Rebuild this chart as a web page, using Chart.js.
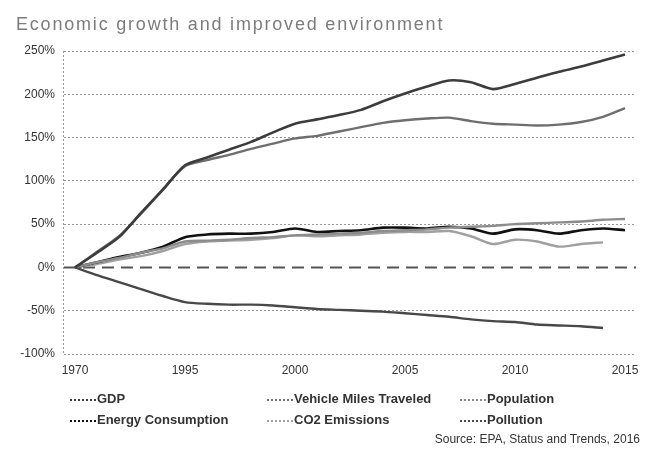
<!DOCTYPE html>
<html>
<head>
<meta charset="utf-8">
<script src="https://cdn.jsdelivr.net/npm/chart.js@4/dist/chart.umd.min.js"></script>
<style>
html,body{margin:0;padding:0;background:#fff;}
#wrap{position:relative;width:654px;height:450px;font-family:"Liberation Sans",Arial,sans-serif;overflow:hidden;}
#c{position:absolute;left:0;top:0;}
#title{position:absolute;left:16px;top:15px;font-size:18px;line-height:18px;letter-spacing:1.8px;color:#7c7c7c;white-space:nowrap;}
.leg{position:absolute;font-size:13px;font-weight:bold;color:#333;white-space:nowrap;line-height:16px;}
.leg i{display:inline-block;width:26px;height:0;border-top:2px dotted #555;vertical-align:middle;margin-right:1px;}
#src{position:absolute;right:14px;top:432px;font-size:12px;line-height:14px;color:#333;white-space:nowrap;}
</style>
</head>
<body>
<div id="wrap">
  <canvas id="c" width="654" height="450"></canvas>
  <div id="title">Economic growth and improved environment</div>
  <div id="legend"></div>
  <div id="src">Source: EPA, Status and Trends, 2016</div>
</div>
<script>
// ---- data ----
const years = ['1970','1975','1980','1985','1990','1995','1996','1997','1998','1999','2000','2001','2002','2003','2004','2005','2006','2007','2008','2009','2010','2011','2012','2013','2014','2015'];
const xTickLabels = ['1970','1995','2000','2005','2010','2015'];
const seriesNames = ['GDP','Vehicle Miles Traveled','Population','Energy Consumption','CO2 Emissions','Pollution'];
const gdp        = [0,17,35,63,90,118,127,136,145,156,166,171,176,182,192,201,209,216,214,206,212,219,226,232,239,246];
const vmt        = [0,18,36,62,90,117,124,130,137,143,149,152,157,162,167,170,172,173,169,166,165,164,165,168,174,184];
const population = [0,6,11,17,22,30,31,32,34,35,37,38,39,40,42,43,44,46,47,48,50,51,52,53,55,56];
const energy     = [0,6,12,17,24,35,38,39,39,41,45,41,42,43,46,46,45,47,45,39,44,43,39,43,45,43];
const co2        = [0,4,9,13,19,27,30,31,32,34,37,36,37,38,40,41,41,42,36,27,32,30,24,27,29,null];
const pollution  = [0,-9,-17,-25,-33,-40,-42,-43,-43,-44,-46,-48,-49,-50,-51,-53,-55,-57,-60,-62,-63,-66,-67,-68,-70,null];

// ---- styles ----
const seriesData = [gdp, vmt, population, energy, co2, pollution];
const colors = ['#3c3c3c','#6e6e6e','#8c8c8c','#111111','#a0a0a0','#484848'];
const widths = [2.6,2.4,2.4,2.6,2.4,2.4];

const zeroLine = {
  id:'zeroLine',
  beforeDatasetsDraw(chart){
    const {ctx, chartArea:a, scales:{y}} = chart;
    const yz = Math.round(y.getPixelForValue(0)) + 0.5;
    ctx.save();
    ctx.strokeStyle = '#555'; ctx.lineWidth = 2; ctx.setLineDash([12,7]);
    ctx.beginPath(); ctx.moveTo(a.left, yz); ctx.lineTo(a.right, yz); ctx.stroke();
    ctx.setLineDash([2,2]); ctx.lineWidth = 1; ctx.strokeStyle = '#999';
    ctx.beginPath(); ctx.moveTo(a.left - 0.5, a.top); ctx.lineTo(a.left - 0.5, a.bottom); ctx.stroke();
    ctx.restore();
  }
};

new Chart(document.getElementById('c'), {
  type:'line',
  data:{
    labels: years,
    datasets: seriesNames.map((n,i)=>({
      label:n, data:seriesData[i], borderColor:colors[i], backgroundColor:colors[i],
      borderWidth:widths[i], pointRadius:0, tension:0.25, fill:false, spanGaps:false
    }))
  },
  options:{
    responsive:false, animation:false, devicePixelRatio:1,
    layout:{padding:{top:51,right:18,bottom:0,left:0}},
    plugins:{legend:{display:false}, title:{display:false}, tooltip:{enabled:false}},
    scales:{
      x:{
        type:'category', offset:true,
        grid:{display:false, drawTicks:false},
        border:{display:false},
        ticks:{autoSkip:false, maxRotation:0, padding:9, color:'#333',
          font:{family:'"Liberation Sans", Arial, sans-serif', size:12},
          callback:function(v){ const l = this.getLabelForValue(v); return xTickLabels.includes(l) ? l : ''; }},
        afterFit(s){ s.height = 96; }
      },
      y:{
        min:-100, max:250,
        grid:{drawTicks:false, lineWidth:1, color:(c)=> (c.tick && c.tick.value === 0) ? 'rgba(0,0,0,0)' : '#9a9a9a'},
        border:{display:false, dash:[2,2]},
        ticks:{stepSize:50, padding:9, color:'#333',
          font:{family:'"Liberation Sans", Arial, sans-serif', size:12},
          callback:(v)=> v + '%'},
        afterFit(s){ s.width = 64; }
      }
    }
  },
  plugins:[zeroLine]
});

// ---- HTML legend (3 columns x 2 rows) ----
const legCols = [70, 267, 460];
const legRows = [391, 412];
const legend = document.getElementById('legend');
seriesNames.forEach((n,i)=>{
  const d = document.createElement('div');
  d.className = 'leg';
  d.style.left = legCols[i % 3] + 'px';
  d.style.top = legRows[Math.floor(i / 3)] + 'px';
  d.innerHTML = '<i style="border-top-color:' + colors[i] + '"></i>' + n;
  legend.appendChild(d);
});
</script>
</body>
</html>
